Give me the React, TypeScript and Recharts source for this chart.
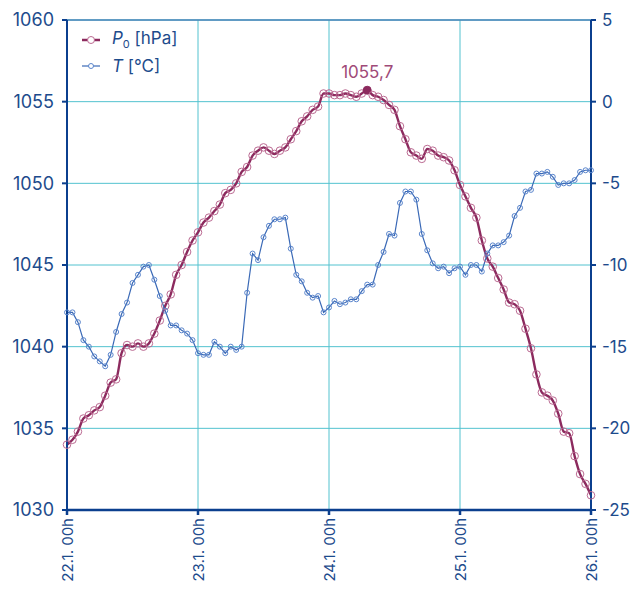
import { CartesianGrid, Legend, Line, LineChart, ReferenceLine, XAxis, YAxis } from "recharts";

// hourly readings, 22.1. 00h .. 26.1. 00h
const pressure = [
    1034.0, 1034.3, 1034.8, 1035.6, 1035.8, 1036.1, 1036.3, 1037.0, 1037.8, 1038.0,
    1039.6, 1040.1, 1040.0, 1040.2, 1040.0, 1040.2, 1040.8, 1041.6, 1042.5, 1043.2,
    1044.4, 1045.0, 1045.8, 1046.5, 1047.0, 1047.6, 1047.9, 1048.3, 1048.7, 1049.4,
    1049.6, 1050.0, 1050.7, 1051.0, 1051.7, 1052.0, 1052.2, 1052.0, 1051.8, 1052.0,
    1052.2, 1052.7, 1053.2, 1053.8, 1054.1, 1054.5, 1054.7, 1055.5, 1055.5, 1055.4,
    1055.4, 1055.5, 1055.4, 1055.3, 1055.5, 1055.7, 1055.4, 1055.3, 1055.1, 1054.8,
    1054.5, 1053.5, 1052.7, 1051.9, 1051.7, 1051.5, 1052.1, 1052.0, 1051.7, 1051.6,
    1051.4, 1050.8, 1049.9, 1049.2, 1048.5, 1047.9, 1046.5, 1045.4, 1044.9, 1044.2,
    1043.5, 1042.7, 1042.6, 1042.2, 1041.1, 1039.9, 1038.3, 1037.2, 1037.0, 1036.7,
    1035.9, 1034.8, 1034.7, 1033.3, 1032.2, 1031.6, 1030.9,
];

const temperature = [
    -12.9, -12.9, -13.5, -14.6, -15.0, -15.6, -15.9, -16.2, -15.5, -14.1,
    -13.0, -12.3, -11.1, -10.6, -10.1, -10.0, -10.9, -11.9, -12.8, -13.7,
    -13.7, -14.0, -14.2, -14.6, -15.4, -15.5, -15.5, -14.7, -15.0, -15.4,
    -15.0, -15.2, -15.0, -11.7, -9.3, -9.7, -8.3, -7.6, -7.2, -7.2,
    -7.1, -9.0, -10.6, -11.0, -11.7, -12.0, -11.9, -12.9, -12.6, -12.2,
    -12.4, -12.3, -12.1, -12.1, -11.6, -11.2, -11.2, -10.0, -9.2, -8.1,
    -8.2, -6.2, -5.5, -5.5, -6.0, -8.1, -9.1, -9.9, -10.2, -10.1,
    -10.5, -10.2, -10.1, -10.6, -10.0, -10.0, -10.4, -9.3, -8.8, -8.8,
    -8.6, -8.2, -7.0, -6.5, -5.5, -5.4, -4.4, -4.4, -4.3, -4.6,
    -5.1, -5.0, -5.0, -4.8, -4.3, -4.2, -4.2,
];

const dayLabels = ["22.1. 00h", "23.1. 00h", "24.1. 00h", "25.1. 00h", "26.1. 00h"];
const pressureTicks = [1030, 1035, 1040, 1045, 1050, 1055, 1060];
const temperatureTicks = [-25, -20, -15, -10, -5, 0, 5];

const FONT = "Inter, 'Noto Sans', sans-serif";
const TEXT = "#1d4b8c";
const AXIS = "#0b3f8e";
const GRID = "#52c2cf";
const P_COLOR = "#8c2a5e";
const P_DOT = "#bb6a92";
const T_COLOR = "#3a69b6";
const T_DOT = "#5a85cc";

const data = pressure.map((p, i) => ({ h: i, p, t: temperature[i] }));
const maxIdx = pressure.indexOf(Math.max(...pressure));

const tickStyle = { fontFamily: FONT, fontSize: 18, fill: TEXT };

function DayTick({ x, y, payload }: any) {
    return (
        <text
            x={x}
            y={y}
            transform={`rotate(-90, ${x}, ${y})`}
            textAnchor="end"
            dominantBaseline="central"
            style={{ fontFamily: FONT, fontSize: 15, fill: TEXT }}
        >
            {dayLabels[payload.value / 24]}
        </text>
    );
}

function PressureDot({ cx, cy, index }: any) {
    if (index === maxIdx) {
        return <circle key={index} cx={cx} cy={cy} r={4} fill={P_COLOR} stroke={P_COLOR} />;
    }
    return <circle key={index} cx={cx} cy={cy} r={3.8} fill="none" stroke={P_DOT} strokeWidth={1} />;
}

function TempDot({ cx, cy, index }: any) {
    return <circle key={index} cx={cx} cy={cy} r={2.5} fill="none" stroke={T_DOT} strokeWidth={1} />;
}

function MaxLabel({ x, y, index, value }: any) {
    if (index !== maxIdx) return null;
    return (
        <text x={x} y={y - 12} textAnchor="middle" style={{ fontFamily: FONT, fontSize: 17, fill: "#a04a78" }}>
            {Number(value).toFixed(1).replace(".", ",")}
        </text>
    );
}

function ChartLegend() {
    const row = { display: "flex", alignItems: "center", height: 26 };
    return (
        <div style={{ fontFamily: FONT, fontSize: 17, color: TEXT }}>
            <div style={row}>
                <svg width={22} height={12} style={{ marginRight: 10 }}>
                    <line x1={2} y1={6} x2={20} y2={6} stroke={P_COLOR} strokeWidth={2.5} />
                    <circle cx={11} cy={6} r={3.5} fill="#fff" stroke={P_DOT} />
                </svg>
                <span>
                    <i>P</i>
                    <sub style={{ fontSize: 11 }}>0</sub> [hPa]
                </span>
            </div>
            <div style={row}>
                <svg width={22} height={12} style={{ marginRight: 10 }}>
                    <line x1={2} y1={6} x2={20} y2={6} stroke={T_COLOR} strokeWidth={1.2} />
                    <circle cx={11} cy={6} r={2.5} fill="#fff" stroke={T_DOT} />
                </svg>
                <span>
                    <i>T</i> [°C]
                </span>
            </div>
        </div>
    );
}

export default function App() {
    return (
        <>
            <style>{`body { margin: 0; overflow: hidden; }`}</style>
            <LineChart
                width={632}
                height={593}
                data={data}
                margin={{ top: 20, right: 8, bottom: 8, left: 8 }}
            >
                <CartesianGrid yAxisId="p" stroke={GRID} strokeWidth={1} />
                <XAxis
                    dataKey="h"
                    type="number"
                    domain={[0, 96]}
                    ticks={[0, 24, 48, 72, 96]}
                    height={75}
                    stroke={AXIS}
                    strokeWidth={2.5}
                    tickSize={5}
                    tickMargin={3}
                    tick={<DayTick />}
                />
                <YAxis
                    yAxisId="p"
                    domain={[1030, 1060]}
                    ticks={pressureTicks}
                    width={59}
                    stroke={AXIS}
                    strokeWidth={2}
                    tickSize={5}
                    tickMargin={8}
                    tick={tickStyle}
                />
                <YAxis
                    yAxisId="t"
                    orientation="right"
                    domain={[-25, 5]}
                    ticks={temperatureTicks}
                    width={33}
                    stroke={AXIS}
                    strokeWidth={2}
                    tickSize={5}
                    tickMargin={6}
                    tick={{ ...tickStyle, fontSize: 17, textAnchor: "start" }}
                />
                <ReferenceLine yAxisId="p" y={1060} stroke="#4a84b8" strokeWidth={1.5} />
                <Legend
                    layout="vertical"
                    align="center"
                    verticalAlign="middle"
                    content={<ChartLegend />}
                    wrapperStyle={{ top: 27, left: 80, width: "auto", height: "auto" }}
                />
                <Line
                    yAxisId="p"
                    dataKey="p"
                    type="monotone"
                    stroke={P_COLOR}
                    strokeWidth={2.4}
                    dot={<PressureDot />}
                    activeDot={false}
                    label={<MaxLabel />}
                    isAnimationActive={false}
                />
                <Line
                    yAxisId="t"
                    dataKey="t"
                    type="linear"
                    stroke={T_COLOR}
                    strokeWidth={1.2}
                    dot={<TempDot />}
                    activeDot={false}
                    isAnimationActive={false}
                />
            </LineChart>
        </>
    );
}
